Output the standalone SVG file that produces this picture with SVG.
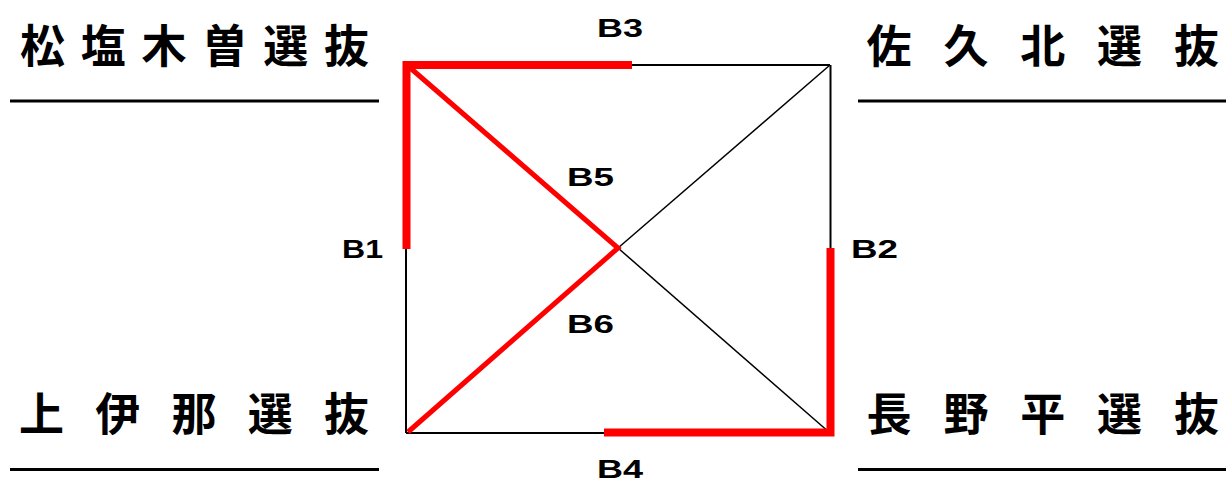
<svg xmlns="http://www.w3.org/2000/svg" width="1226" height="487" viewBox="0 0 1226 487">
<style>
.title{font-family:"Noto Sans CJK JP","Noto Sans CJK SC",sans-serif;font-weight:700;font-size:45px;fill:#000;text-anchor:middle}
.lbl{font-family:"Liberation Sans",Arial,sans-serif;font-weight:700;font-size:26px;fill:#000}
.rule{stroke:#000;stroke-width:3;fill:none}
.blk{stroke:#000;stroke-width:2;fill:none}
.thin{stroke:#000;stroke-width:1.5;fill:none}
.red{stroke:#ff0000;stroke-width:8;fill:none}
.redd{stroke:#ff0000;stroke-width:5;fill:none}
</style>
<rect width="1226" height="487" fill="#fff"/>
<g id="team-matsushio-kiso">
<text class="title" x="42.5 103.3 164.1 224.9 285.7 346.5" y="63">松塩木曽選抜</text>
<line class="rule" x1="10" y1="101" x2="379" y2="101"/>
</g>
<g id="team-saku-kita">
<text class="title" x="889 965.9 1042.8 1119.6 1196.5" y="63">佐久北選抜</text>
<line class="rule" x1="858" y1="101" x2="1226" y2="101"/>
</g>
<g id="team-kami-ina">
<text class="title" x="41.5 117.75 194 270.25 346.5" y="431">上伊那選抜</text>
<line class="rule" x1="10" y1="469.5" x2="379" y2="469.5"/>
</g>
<g id="team-nagano-taira">
<text class="title" x="889 965.9 1042.8 1119.6 1196.5" y="431">長野平選抜</text>
<line class="rule" x1="858" y1="469.5" x2="1226" y2="469.5"/>
</g>
<g id="connectors">
<line class="blk" x1="632" y1="65" x2="830" y2="65"/>
<line class="blk" x1="406" y1="249" x2="406" y2="433"/>
<line class="blk" x1="830.5" y1="65" x2="830.5" y2="248"/>
<line class="blk" x1="406" y1="433" x2="604" y2="433"/>
<line class="thin" x1="618" y1="248" x2="830" y2="65"/>
<line class="thin" x1="618" y1="248" x2="830" y2="433"/>
<path class="red" d="M406.5 249 V65 H632"/>
<path class="red" d="M830.5 248 V432.5 H604"/>
<path class="redd" d="M408 66 L618 248 L408 432" stroke-linejoin="miter"/>
</g>
<g id="labels">
<text class="lbl" x="597" y="37" textLength="46" lengthAdjust="spacingAndGlyphs">B3</text>
<text class="lbl" x="342" y="258" textLength="41" lengthAdjust="spacingAndGlyphs">B1</text>
<text class="lbl" x="851" y="258" textLength="47" lengthAdjust="spacingAndGlyphs">B2</text>
<text class="lbl" x="567" y="186" textLength="47" lengthAdjust="spacingAndGlyphs">B5</text>
<text class="lbl" x="567" y="333" textLength="47" lengthAdjust="spacingAndGlyphs">B6</text>
<text class="lbl" x="597" y="478" textLength="46" lengthAdjust="spacingAndGlyphs">B4</text>
</g>
</svg>
